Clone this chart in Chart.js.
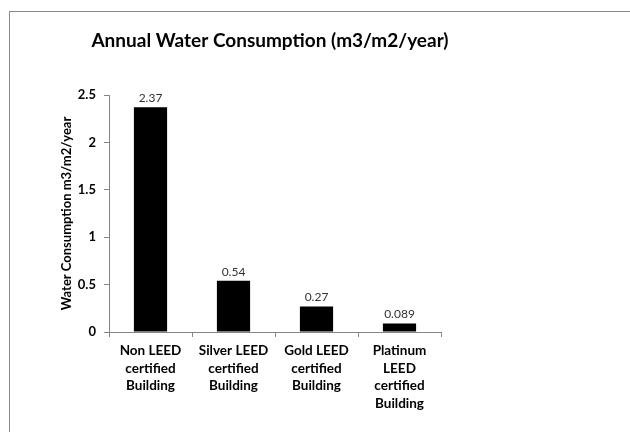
<!DOCTYPE html>
<html lang="en">
<head>
  <meta charset="UTF-8">
  <title>Annual Water Consumption</title>
  <script src="https://cdn.jsdelivr.net/npm/chart.js"></script>
  <style>
    html, body {
      margin: 0;
      width: 630px;
      height: 432px;
      overflow: hidden;
      background: white;
    }
    body { position: relative; }
    .frame {
      position: absolute;
      left: 9px;
      top: 11px;
      width: 700px;
      height: 500px;
      border-left: 1px solid #888;
      border-top: 1px solid #888;
    }
    canvas {
      position: absolute;
      left: 0;
      top: 0;
    }
  </style>
</head>
<body>
  <div class="frame"></div>
  <canvas id="waterChart" width="630" height="432"></canvas>

  <script type="text/javascript">
    const categories = [
      ['Non LEED', 'certified', 'Building'],
      ['Silver LEED', 'certified', 'Building'],
      ['Gold LEED', 'certified', 'Building'],
      ['Platinum', 'LEED', 'certified', 'Building']
    ];
    const consumption = [2.37, 0.54, 0.27, 0.089];
    const valueLabels = ['2.37', '0.54', '0.27', '0.089'];

    const chartTitle = 'Annual Water Consumption (m3/m2/year)';
    const axisTitle = 'Water Consumption m3/m2/year';
    const gray = '#868686';

    // title is not centred on the plot, so draw it by hand
    const titlePlugin = {
      id: 'manualTitle',
      afterDraw(chart) {
        const ctx = chart.ctx;
        ctx.save();
        ctx.font = 'bold 19px Lato';
        ctx.fillStyle = '#000';
        ctx.textAlign = 'center';
        ctx.textBaseline = 'middle';
        ctx.fillText(chartTitle, 270, 41);
        ctx.restore();
      }
    };

    const valuePlugin = {
      id: 'valueLabels',
      afterDatasetsDraw(chart) {
        const ctx = chart.ctx;
        const meta = chart.getDatasetMeta(0);
        ctx.save();
        ctx.font = '12px Lato';
        ctx.fillStyle = '#333';
        ctx.textAlign = 'center';
        ctx.textBaseline = 'bottom';
        meta.data.forEach((bar, i) => {
          ctx.fillText(valueLabels[i], bar.x, bar.y - 3);
        });
        ctx.restore();
      }
    };

    new Chart(document.getElementById('waterChart'), {
      type: 'bar',
      data: {
        labels: categories,
        datasets: [{
          data: consumption,
          backgroundColor: '#000',
          borderWidth: 0,
          barPercentage: 0.4,
          categoryPercentage: 1
        }]
      },
      options: {
        responsive: false,
        animation: false,
        layout: { padding: { top: 95, right: 189, left: 0, bottom: 0 } },
        plugins: {
          legend: { display: false },
          title: { display: false },
          tooltip: { enabled: false }
        },
        scales: {
          x: {
            grid: { drawOnChartArea: false, color: gray, tickLength: 5 },
            border: { color: gray },
            ticks: {
              color: '#000',
              padding: 5,
              maxRotation: 0,
              autoSkip: false,
              font: { family: 'Lato', weight: 'bold', size: 13.5, lineHeight: 1.3 }
            },
            afterFit(scale) { scale.height = 100; }
          },
          y: {
            min: 0,
            max: 2.5,
            grid: { drawOnChartArea: false, color: gray, tickLength: 5 },
            border: { color: gray },
            ticks: {
              stepSize: 0.5,
              color: '#000',
              padding: 8,
              callback: v => String(v),
              font: { family: 'Lato', weight: 'bold', size: 13 }
            },
            title: {
              display: true,
              text: axisTitle,
              color: '#000',
              padding: { top: 59, bottom: 0 },
              font: { family: 'Lato', weight: 'bold', size: 13 }
            },
            afterFit(scale) { scale.width = 109; }
          }
        }
      },
      plugins: [titlePlugin, valuePlugin]
    });
  </script>
</body>
</html>
